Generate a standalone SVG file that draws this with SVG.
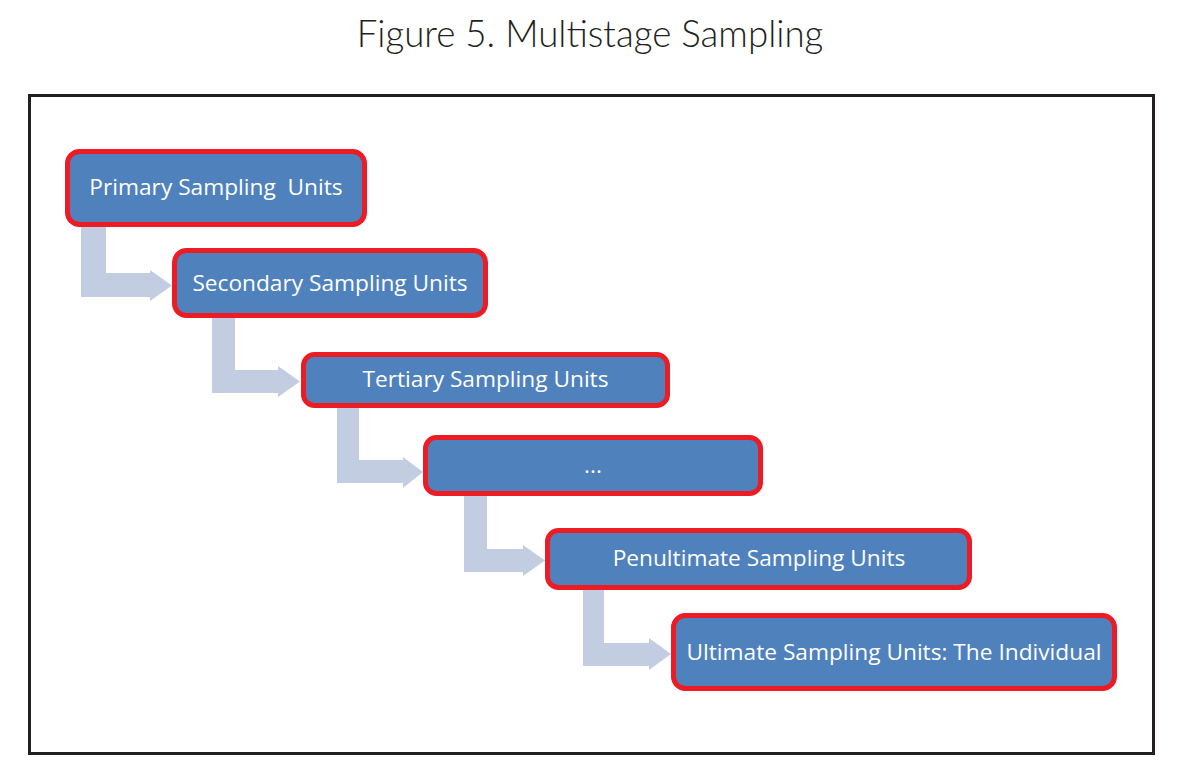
<svg xmlns="http://www.w3.org/2000/svg" width="1179" height="769" viewBox="0 0 1179 769">
<style>
.title{font-family:"Lato","Open Sans","Liberation Sans",sans-serif;font-weight:300;font-size:36.7px;fill:#231f20}
.box{fill:#4f81bd;stroke:#ed1c24;stroke-width:5}
.lbl{font-family:"Open Sans","Noto Sans","Liberation Sans",sans-serif;font-size:22.7px;fill:#ffffff;text-anchor:middle;white-space:pre}
.arr{fill:#c3cde1}
</style>
<rect width="1179" height="769" fill="#ffffff"/>
<text class="title" x="590" y="47" text-anchor="middle">Figure 5. Multistage Sampling</text>
<rect x="29.5" y="95.5" width="1124" height="658" fill="none" stroke="#231f20" stroke-width="3"/>
<g id="connectors">
<path class="arr" d="M81,226 H106 V273 H150 V270 L172,285.5 L150,301 V297 H81 Z"/>
<path class="arr" d="M212,318 H235 V370 H278 V366 L300,381.5 L278,397 V393 H212 Z"/>
<path class="arr" d="M337,408 H359 V460 H403 V457 L423,472 L403,488 V483 H337 Z"/>
<path class="arr" d="M464,496 H487 V549 H523 V545 L545,560.5 L523,576 V572 H464 Z"/>
<path class="arr" d="M583,590 H604 V643 H649 V638 L671,654 L649,670 V666 H583 Z"/>
</g>
<g id="n1"><rect class="box" x="67.5" y="151.5" width="297" height="73" rx="12"/><text class="lbl" x="216" y="195" xml:space="preserve">Primary Sampling  Units</text></g>
<g id="n2"><rect class="box" x="174.5" y="250.5" width="311" height="65" rx="12"/><text class="lbl" x="330" y="291">Secondary Sampling Units</text></g>
<g id="n3"><rect class="box" x="303.5" y="354.5" width="364" height="51" rx="11"/><text class="lbl" x="485.5" y="387">Tertiary Sampling Units</text></g>
<g id="n4"><rect class="box" x="425.5" y="437.5" width="335" height="56" rx="11"/><text class="lbl" x="593" y="473">...</text></g>
<g id="n5"><rect class="box" x="547.5" y="530.5" width="422" height="57" rx="11"/><text class="lbl" x="759" y="566">Penultimate Sampling Units</text></g>
<g id="n6"><rect class="box" x="673.5" y="615.5" width="441" height="73" rx="12"/><text class="lbl" x="894" y="660">Ultimate Sampling Units: The Individual</text></g>
</svg>
